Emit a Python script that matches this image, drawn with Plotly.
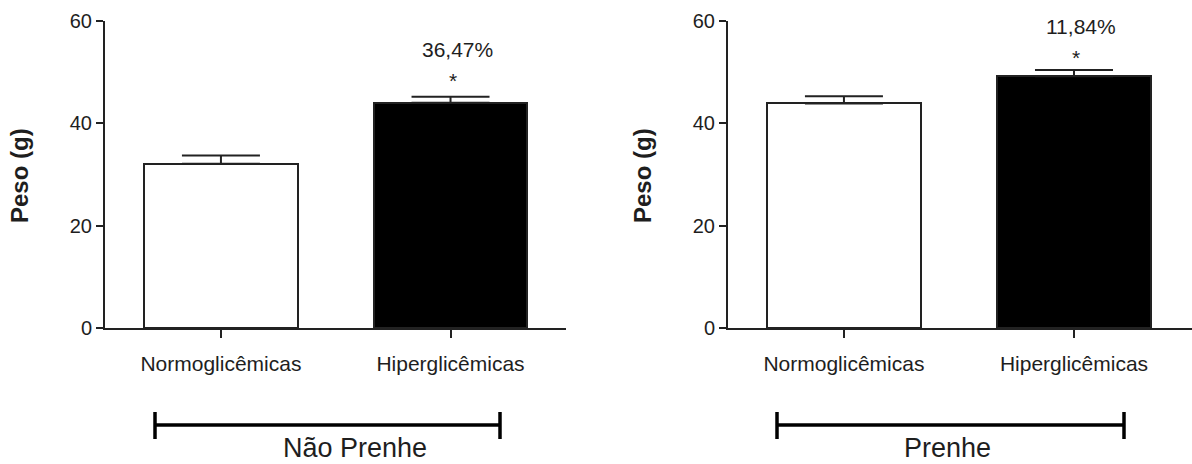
import plotly.graph_objects as go

categories = ["Normoglicêmicas", "Hiperglicêmicas"]
panels = ["Não Prenhe", "Prenhe"]
means_nao_prenhe = [32.1, 44.0]
sem_nao_prenhe = [1.6, 1.2]
means_prenhe = [43.9, 49.2]
sem_prenhe = [1.4, 1.2]
percent_labels = ["36,47%", "11,84%"]
y_ticks = [0, 20, 40, 60]
y_title = "Peso (g)"

W, H = 1192, 464
FONT = "Liberation Sans, Arial, sans-serif"
TXT = "#1e1e1e"
LINE = "#222222"

fig = go.Figure()

data_sets = [(means_nao_prenhe, sem_nao_prenhe), (means_prenhe, sem_prenhe)]
for i, (m, s) in enumerate(data_sets):
    xa = "x" if i == 0 else "x2"
    ya = "y" if i == 0 else "y2"
    fig.add_trace(go.Bar(
        x=categories, y=m, xaxis=xa, yaxis=ya,
        width=0.67,
        marker=dict(color=["white", "black"], line=dict(color=LINE, width=2)),
        error_y=dict(type="data", array=s, arrayminus=[0] * len(s), symmetric=False,
                     color=LINE, thickness=2, width=39),
        showlegend=False, hoverinfo="skip",
    ))

px0_left, px1_left = 105, 566
px0_right, px1_right = 728, 1192
y_bot, y_top = 328, 21

ydom = [1 - y_bot / H, 1 - y_top / H]

axis_common = dict(
    showline=True, linecolor=LINE, linewidth=2,
    ticks="outside", tickcolor=LINE, tickwidth=2,
    showgrid=False, zeroline=False, automargin=False,
)
xfont = dict(family=FONT, size=21, color=TXT)
yfont = dict(family=FONT, size=20, color=TXT)

fig.update_layout(
    template="none",
    width=W, height=H, margin=dict(l=0, r=0, t=0, b=0, pad=0, autoexpand=False),
    paper_bgcolor="white", plot_bgcolor="white",
    bargap=0,
    xaxis=dict(domain=[px0_left / W, px1_left / W], range=[-0.505, 1.503],
               type="category", ticklen=8, ticklabelstandoff=8, anchor="y",
               tickfont=xfont, **axis_common),
    yaxis=dict(domain=ydom, range=[0, 60], tickvals=y_ticks, ticklen=7,
               anchor="x", tickfont=yfont, **axis_common),
    xaxis2=dict(domain=[px0_right / W, px1_right / W], range=[-0.504, 1.513],
                type="category", ticklen=8, ticklabelstandoff=8, anchor="y2",
                tickfont=xfont, **axis_common),
    yaxis2=dict(domain=ydom, range=[0, 60], tickvals=y_ticks, ticklen=7,
                anchor="x2", tickfont=yfont, **axis_common),
)

annotations = []
# y titles
for xc in (19, 642):
    annotations.append(dict(
        text=y_title, x=xc / W, y=1 - 176 / H, xref="paper", yref="paper",
        textangle=-90, showarrow=False, xanchor="center", yanchor="middle",
        font=dict(family=FONT, size=24, color=TXT, weight="bold"),
    ))

# percent and asterisk annotations
pct_pos = [(1.03, 54.5, 1.01, 48.3, "x", "y"), (1.03, 59.0, 1.01, 52.8, "x2", "y2")]
for lab, (xp, yp, xs, ys, xr, yr) in zip(percent_labels, pct_pos):
    annotations.append(dict(text=lab, x=xp, y=yp, xref=xr, yref=yr, showarrow=False,
                            font=dict(family=FONT, size=21, color=TXT)))
    annotations.append(dict(text="*", x=xs, y=ys, xref=xr, yref=yr, showarrow=False,
                            font=dict(family=FONT, size=21, color=TXT)))

# bracket group labels
bracket_px = [(155, 500, 355), (777, 1124, 947)]
shapes = []
for (xa0, xa1, xc), name in zip(bracket_px, panels):
    yl = 1 - 425 / H
    shapes.append(dict(type="line", xref="paper", yref="paper",
                       x0=xa0 / W, x1=xa1 / W, y0=yl, y1=yl,
                       line=dict(color="black", width=3.5)))
    for xe in (xa0, xa1):
        shapes.append(dict(type="line", xref="paper", yref="paper",
                           x0=xe / W, x1=xe / W, y0=1 - 412 / H, y1=1 - 439 / H,
                           line=dict(color="black", width=3.5)))
    annotations.append(dict(text=name, x=xc / W, y=0, xref="paper", yref="paper",
                            showarrow=False, xanchor="center", yanchor="bottom",
                            borderpad=0,
                            font=dict(family=FONT, size=27, color=TXT)))

fig.update_layout(annotations=annotations, shapes=shapes)
fig.write_html("out.html")
